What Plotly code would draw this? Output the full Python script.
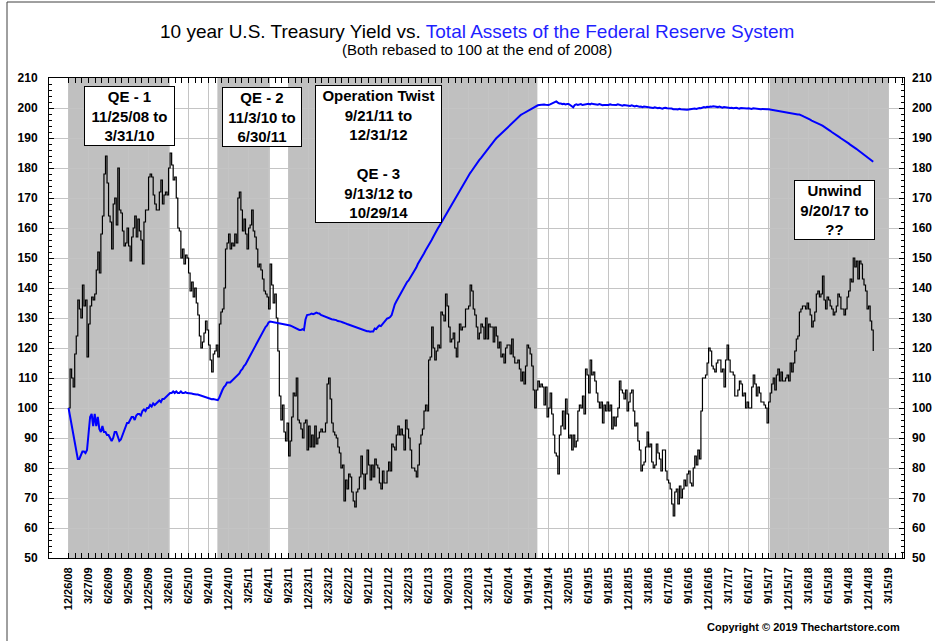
import pandas as pd
import plotly.graph_objects as go

# ---------------- data ----------------
start_date = "2008-12-26"          # first weekly observation (rebased = 100 here)

tick_labels = ["12/26/08", "3/27/09", "6/26/09", "9/25/09", "12/25/09", "3/26/10", "6/25/10",
               "9/24/10", "12/24/10", "3/25/11", "6/24/11", "9/23/11", "12/23/11", "3/23/12",
               "6/22/12", "9/21/12", "12/21/12", "3/22/13", "6/21/13", "9/20/13", "12/20/13",
               "3/21/14", "6/20/14", "9/19/14", "12/19/14", "3/20/15", "6/19/15", "9/18/15",
               "12/18/15", "3/18/16", "6/17/16", "9/16/16", "12/16/16", "3/17/17", "6/16/17",
               "9/15/17", "12/15/17", "3/16/18", "6/15/18", "9/14/18", "12/14/18", "3/15/19"]

# 10 year U.S. Treasury yield, weekly, rebased to 100 (one row = one quarter / 13 weeks)
treasury_yield = [
    100, 113, 110, 107, 118, 124, 136, 133, 130, 141, 134, 136, 117,
    128, 134, 137, 136, 138, 146, 152, 145, 158, 164, 178, 184, 175,
    164, 162, 153, 168, 170, 161, 180, 166, 165, 159, 154, 155, 160,
    154, 149, 157, 160, 164, 157, 163, 159, 156, 148, 162, 166, 166,
    177, 178, 177, 171, 168, 166, 166, 172, 176, 168, 171, 172, 171,
    180, 185, 181, 176, 177, 170, 160, 159, 150, 153, 148, 151, 150,
    145, 139, 142, 137, 140, 135, 131, 124, 120, 122, 125, 129, 126,
    121, 116, 112, 118, 119, 121, 117, 128, 132, 133, 140, 153, 155,
    158, 153, 155, 154, 158, 155, 170, 172, 166, 159, 163, 158, 153,
    160, 161, 166, 159, 157, 153, 147, 148, 146, 143, 139, 138, 137,
    133, 148, 141, 135, 138, 130, 119, 104, 96, 101, 92, 89, 95,
    84, 89, 97, 105, 104, 110, 96, 95, 93, 90, 95, 96, 86,
    94, 87, 91, 87, 94, 88, 90, 92, 93, 92, 92, 95, 108,
    110, 103, 95, 92, 91, 90, 87, 85, 80, 81, 69, 76, 73,
    78, 77, 72, 69, 67, 72, 73, 77, 84, 78, 73, 78, 86,
    81, 76, 81, 77, 83, 81, 80, 75, 73, 79, 75, 75, 79,
    82, 79, 88, 87, 86, 91, 94, 91, 93, 91, 86, 96, 93,
    90, 86, 80, 80, 79, 77, 81, 88, 91, 93, 99, 101, 99,
    116, 117, 127, 120, 116, 119, 121, 120, 132, 131, 129, 138, 134,
    127, 122, 123, 125, 120, 117, 122, 128, 126, 127, 127, 133, 133,
    134, 141, 139, 133, 131, 127, 123, 125, 128, 127, 123, 130, 123,
    128, 127, 127, 122, 127, 124, 120, 122, 117, 118, 115, 120, 121,
    121, 118, 123, 117, 115, 115, 116, 113, 109, 112, 108, 114, 121,
    120, 118, 114, 106, 100, 106, 109, 107, 108, 107, 101, 107, 97,
    100, 105, 98, 91, 85, 84, 78, 91, 94, 99, 93, 103, 98,
    90, 91, 86, 91, 87, 89, 99, 101, 100, 104, 98, 113, 111,
    105, 116, 111, 112, 109, 105, 102, 100, 102, 95, 101, 99, 102,
    99, 101, 93, 97, 94, 97, 100, 109, 106, 105, 103, 106, 99,
    102, 105, 106, 99, 94, 95, 89, 86, 79, 81, 82, 87, 92,
    87, 88, 82, 80, 81, 88, 85, 83, 79, 86, 86, 79, 76,
    75, 73, 68, 64, 72, 73, 68, 74, 70, 73, 76, 74, 78,
    79, 75, 74, 80, 84, 81, 86, 83, 99, 110, 110, 111, 115,
    120, 119, 114, 113, 112, 115, 116, 116, 112, 113, 107, 116, 121,
    116, 112, 112, 111, 104, 104, 106, 109, 108, 104, 105, 100, 102,
    100, 100, 107, 111, 108, 104, 107, 105, 102, 102, 101, 100, 95,
    102, 105, 108, 110, 106, 111, 113, 109, 112, 109, 109, 110, 111,
    109, 115, 112, 115, 119, 123, 124, 132, 133, 134, 134, 133, 135,
    133, 131, 127, 129, 132, 138, 139, 137, 138, 144, 136, 133, 137,
    136, 134, 133, 131, 132, 134, 138, 137, 133, 133, 131, 133, 137,
    139, 143, 142, 150, 147, 149, 143, 149, 148, 143, 141, 139, 133,
    134, 129, 126, 119,
]

# Total assets of the Federal Reserve System, weekly, rebased to 100
fed_assets = [
    100, 97, 94, 91, 88, 85, 83, 83, 84, 85.5, 85.5, 85, 86,
    93, 97, 98, 94, 98, 94, 97, 93, 92, 94, 92, 92, 91,
    91, 90, 89, 90, 92, 92, 90, 89, 89.5, 91, 92, 93.5, 95,
    95, 96, 97, 97, 96, 97.5, 98, 98, 97.5, 99, 99.5, 99, 100,
    100, 101, 100.5, 101.5, 101, 101.5, 102, 102.5, 102, 103, 103, 103.5, 104,
    104.5, 105, 105, 105.5, 105, 105.5, 105, 105, 105.5, 105, 105, 105.3, 105,
    105, 105, 104.8, 104.7, 104.5, 104.5, 104.5, 104.3, 104.2, 104, 103.8, 103.6, 103.4,
    103.2, 103, 102.9, 103, 102.8, 102.7, 102.6, 103.5, 105, 106, 107, 107.5, 108.5,
    108.5, 108.5, 109, 109.5, 110, 110.5, 111, 111.5, 112.5, 113, 114, 114.5, 115.5,
    116.5, 117.5, 118.5, 119.5, 120, 121, 122, 123, 124, 125, 126, 127, 127.5,
    128.5, 128.8, 128.7, 128.6, 128.5, 128.5, 128.4, 128.3, 128.3, 128.2, 128, 128, 127.8,
    127.8, 127.5, 127.3, 127, 126.8, 126.5, 126.3, 126, 126, 126.3, 126, 129.5, 131,
    131, 131.2, 131.5, 131.3, 131.5, 131.8, 131.6, 131.5, 131, 130.8, 130.5, 130.3, 130,
    130, 129.8, 129.6, 129.5, 129.5, 129.3, 129, 129, 128.8, 128.6, 128.3, 128.2, 128,
    127.8, 127.8, 127.5, 127.3, 127, 126.8, 126.8, 126.5, 126.3, 126.2, 126, 125.8, 125.6,
    125.6, 125.4, 125.5, 125.5, 126.5, 126.3, 127, 127.5, 127.3, 128, 128.5, 129.5, 129.8,
    130, 130.3, 131, 133, 134.5, 135.5, 136.5, 137.5, 138.5, 139.5, 140.5, 141, 142,
    142.5, 143.3, 144.2, 145, 146, 146.8, 148, 148.8, 149.7, 150.6, 151.5, 152.5, 153.3,
    154.2, 155, 156, 157, 157.8, 158.6, 159.8, 160.7, 161.6, 162.5, 163.4, 164.2, 165.2,
    166, 167, 167.8, 168.6, 169.5, 170.4, 171.3, 172, 173, 174, 174.8, 175.7, 176.5,
    177.5, 178.3, 179, 179.8, 180.4, 181.2, 182, 182.7, 183.3, 184, 184.7, 185.3, 186,
    186.6, 187.3, 188, 188.6, 189.3, 189.9, 190.4, 190.9, 191.4, 192, 192.5, 193, 193.4,
    193.9, 194.4, 194.9, 195.3, 195.8, 196.3, 196.7, 197.2, 197.7, 198, 198.3, 198.6, 199,
    199.3, 199.6, 199.9, 200.2, 200.5, 200.7, 200.9, 201, 201.1, 201, 201.2, 201.1, 201,
    201, 201.2, 201.5, 201.8, 202.1, 202.2, 201.8, 201.5, 201.5, 201.3, 201.4, 201.2, 201.3,
    201.3, 201, 200.5, 200.2, 201, 201.2, 201, 201.2, 201.3, 201, 201.1, 201.3, 201.2,
    201.4, 201.2, 201.5, 201.3, 201.2, 201, 201.1, 201.3, 201, 200.9, 201, 201.1, 201,
    201, 201.2, 201.1, 201, 200.9, 201, 201.2, 201, 200.9, 200.8, 201, 200.9, 200.8,
    200.8, 200.7, 200.9, 200.6, 200.5, 200.7, 200.5, 200.4, 200.5, 200.3, 200.5, 200.4, 200.3,
    200.3, 200.1, 200.2, 200, 200.2, 200.1, 199.9, 200.1, 200, 199.8, 200, 200.1, 199.9,
    199.9, 199.7, 199.8, 199.6, 199.7, 199.6, 199.5, 199.7, 199.6, 199.5, 199.6, 199.5, 199.4,
    199.5, 199.6, 199.5, 199.7, 199.8, 199.7, 199.9, 200, 199.9, 200.1, 200.3, 200.2, 200.4,
    200.3, 200.5, 200.4, 200.6, 200.5, 200.4, 200.3, 200.5, 200.2, 200.1, 200.3, 200.2, 200.1,
    200.2, 200, 200.1, 199.9, 200, 200.1, 199.9, 199.8, 200, 199.9, 199.8, 199.9, 199.8,
    199.9, 199.8, 199.7, 199.9, 199.8, 199.7, 199.8, 199.7, 199.6, 199.7, 199.6, 199.7, 199.6,
    199.6, 199.5, 199.5, 199.4, 199.3, 199.2, 199.1, 199, 198.9, 198.7, 198.6, 198.4, 198.3,
    198.2, 198.1, 198, 198, 197.9, 197.9, 197.8, 197.8, 197.7, 197.4, 197.1, 196.9, 196.6,
    196.3, 196.1, 195.8, 195.6, 195.3, 195.1, 194.9, 194.6, 194.4, 194.1, 193.8, 193.4, 193.1,
    192.7, 192.4, 192, 191.7, 191.3, 191, 190.6, 190.3, 189.9, 189.6, 189.2, 188.9, 188.5,
    188.2, 187.8, 187.5, 187.1, 186.8, 186.4, 186, 185.6, 185.2, 184.8, 184.4, 184, 183.6,
    183.2, 182.8, 182.5, 182.1,
]

# program periods (shaded)
periods = [("2008-12-26", "2010-03-31"),   # QE-1 (11/25/08 start, before data)
           ("2010-11-03", "2011-06-30"),   # QE-2
           ("2011-09-21", "2014-10-29"),   # Operation Twist / QE-3
           ("2017-09-20", "2019-03-15")]   # Unwind

box_texts = ["QE - 1<br>11/25/08 to<br>3/31/10",
             "QE - 2<br>11/3/10 to<br>6/30/11",
             "Operation Twist<br>9/21/11 to<br>12/31/12<br> <br>QE - 3<br>9/13/12 to<br>10/29/14",
             "Unwind<br>9/20/17 to<br>??"]

# ---------------- figure ----------------
FONT = "Arial, 'Liberation Sans', sans-serif"
W, H = 935, 641
L, R, T, B = 49, 904, 78, 558          # plot area in pixels


def px(x):
    return (x - L) / (R - L)


def py(y):
    return (B - y) / (B - T)


dates_y = pd.date_range(start_date, periods=len(treasury_yield), freq="7D")
dates_f = pd.date_range(start_date, periods=len(fed_assets), freq="7D")
tick_dates = pd.date_range(start_date, periods=len(tick_labels), freq="91D")
minor_ticks = []
for d in tick_dates:
    minor_ticks += [d + pd.Timedelta(days=30), d + pd.Timedelta(days=61)]

fig = go.Figure()
fig.add_trace(go.Scatter(x=dates_y, y=treasury_yield, mode="lines", line_shape="hv",
                         line=dict(color="black", width=1.2), name="10 year Treasury Yield",
                         hoverinfo="x+y"))
fig.add_trace(go.Scatter(x=dates_f, y=fed_assets, mode="lines", yaxis="y2",
                         line=dict(color="#0000ff", width=2), name="Fed Total Assets",
                         hoverinfo="x+y"))

shapes = []
for a, b in periods:
    shapes.append(dict(type="rect", xref="x", yref="paper", x0=a, x1=b, y0=0, y1=1,
                       fillcolor="#c0c0c0", line=dict(width=0), layer="between"))
# outer frame (left and top edges visible, the rest runs off the canvas)
shapes.append(dict(type="rect", xref="paper", yref="paper",
                   x0=px(7), x1=px(945), y0=py(650), y1=py(2),
                   line=dict(color="#404040", width=1), fillcolor="rgba(0,0,0,0)", layer="above"))

annotations = [
    dict(text="10 year U.S. Treasury Yield vs. <span style='color:#1f1fff'>Total Assets of the Federal Reserve System</span>",
         xref="paper", yref="paper", x=px(477), y=py(32), xanchor="center", yanchor="middle",
         showarrow=False, font=dict(size=19, color="black", family=FONT)),
    dict(text="(Both rebased to 100 at the end of 2008)",
         xref="paper", yref="paper", x=px(477), y=py(50), xanchor="center", yanchor="middle",
         showarrow=False, font=dict(size=15, color="black", family=FONT)),
    dict(text="<b>Copyright © 2019 Thechartstore.com</b>",
         xref="paper", yref="paper", x=px(902), y=py(627), xanchor="right", yanchor="middle",
         showarrow=False, font=dict(size=11, color="black", family=FONT)),
]
box_geo = [(129.5, 116, 91), (262, 117, 80), (378.5, 153.5, 127), (834.5, 209.5, 81)]
for txt, (cx, cy, w) in zip(box_texts, box_geo):
    annotations.append(dict(text="<b>" + txt.replace("<br>", "</b><br><b>") + "</b>",
                            xref="paper", yref="paper", x=px(cx), y=py(cy),
                            xanchor="center", yanchor="middle", showarrow=False,
                            bgcolor="white", bordercolor="black", borderwidth=1, borderpad=1,
                            width=w - 4, align="center",
                            font=dict(size=15, color="black", family=FONT)))

yticks = list(range(50, 211, 10))
common_y = dict(range=[50, 210], tickvals=yticks, ticktext=[str(v) for v in yticks],
                tickfont=dict(size=12, family=FONT, color="black", weight="bold"),
                fixedrange=True, automargin=False)

fig.update_layout(
    width=W, height=H,
    margin=dict(l=L, r=W - R, t=T, b=H - B, autoexpand=False),
    paper_bgcolor="white", plot_bgcolor="white",
    showlegend=False,
    font=dict(family=FONT, color="black"),
    shapes=shapes,
    annotations=annotations,
    xaxis=dict(type="date", range=["2008-09-28", "2019-05-24"], automargin=False,
               tickvals=tick_dates, ticktext=tick_labels, tickangle=-90,
               tickfont=dict(size=11, family=FONT, color="black", weight="bold"),
               showgrid=True, gridcolor="#c4c4c4", gridwidth=1,
               showline=True, linecolor="black", linewidth=1, mirror="allticks",
               ticks="inside", ticklen=5, tickcolor="black",
               minor=dict(tickmode="array", tickvals=minor_ticks, ticks="inside", ticklen=3,
                          tickcolor="black", showgrid=False),
               ticklabelstandoff=4, zeroline=False),
    yaxis=dict(**common_y, showgrid=True, gridcolor="#c4c4c4", gridwidth=1,
               showline=True, linecolor="black", linewidth=1, mirror="allticks",
               ticks="inside", ticklen=5, tickcolor="black",
               minor=dict(dtick=2, tick0=0, ticks="inside", ticklen=3, tickcolor="black",
                          showgrid=False),
               ticklabelstandoff=8, zeroline=False),
    yaxis2=dict(**common_y, overlaying="y", side="right", showgrid=False, showline=False,
                ticks="", ticklabelstandoff=7, zeroline=False),
)

fig.write_html("out.html", config={"displayModeBar": False},
               post_script="document.body.style.margin='0';document.body.style.padding='0';")
